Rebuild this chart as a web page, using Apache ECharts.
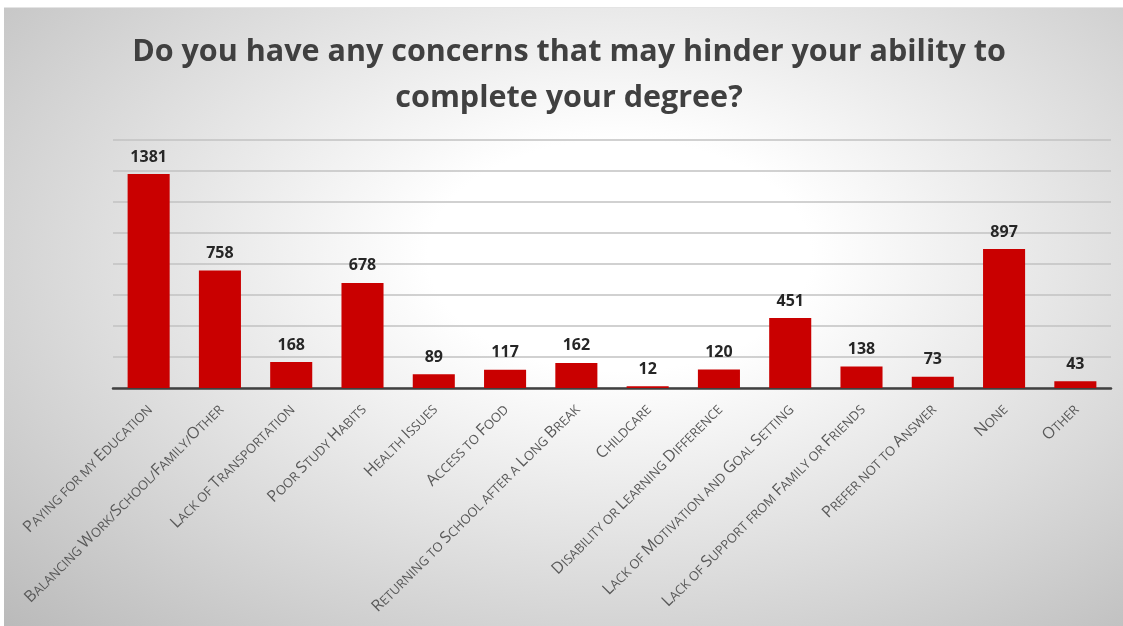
<!DOCTYPE html>
<html>
<head>
<meta charset="utf-8">
<script src="https://cdn.jsdelivr.net/npm/echarts@6/dist/echarts.min.js"></script>
<style>
html,body{margin:0;padding:0;background:#ffffff;}
#bg{position:absolute;left:4px;top:7px;width:1119px;height:619px;border-top:1px solid #e4e4e4;
background:radial-gradient(ellipse farthest-corner at 55% 40%, #ffffff 0%, #ffffff 22%, #bababa 100%);}
#chart{position:absolute;left:0;top:0;width:1123px;height:626px;}
</style>
</head>
<body>
<div id="bg"></div>
<div id="chart"></div>
<script>
const titleText = "Do you have any concerns that may hinder your ability to\ncomplete your degree?";
const categories = [
  "Paying for my Education",
  "Balancing Work/School/Family/Other",
  "Lack of Transportation",
  "Poor Study Habits",
  "Health Issues",
  "Access to Food",
  "Returning to School after a Long Break",
  "Childcare",
  "Disability or Learning Difference",
  "Lack of Motivation and Goal Setting",
  "Lack of Support from Family or Friends",
  "Prefer not to Answer",
  "None",
  "Other"
];
const counts = [1381, 758, 168, 678, 89, 117, 162, 12, 120, 451, 138, 73, 897, 43];
const yTicks = [0, 200, 400, 600, 800, 1000, 1200, 1400, 1600];

function smallCaps(s) {
  let out = "", cur = "", curStyle = null;
  for (const ch of s) {
    const st = (ch >= 'A' && ch <= 'Z') ? 'big' : 'sm';
    if (st !== curStyle && cur) { out += "{" + curStyle + "|" + cur + "}"; cur = ""; }
    curStyle = st;
    cur += ch.toUpperCase();
  }
  if (cur) out += "{" + curStyle + "|" + cur + "}";
  return out;
}

const chart = echarts.init(document.getElementById('chart'), null, {renderer: 'canvas'});
const labelFont = "'Open Sans', sans-serif";
chart.setOption({
  backgroundColor: 'transparent',
  animation: false,
  title: {
    text: titleText,
    left: 564,
    top: 24,
    textAlign: 'center',
    textStyle: {
      fontFamily: labelFont,
      fontWeight: 'bold',
      fontSize: 30.5,
      lineHeight: 46,
      color: '#404040'
    }
  },
  grid: { left: 113, right: 12, top: 140, bottom: 238, containLabel: false },
  xAxis: {
    type: 'category',
    data: categories,
    axisTick: { show: false },
    axisLine: { lineStyle: { color: '#404040', width: 2.5 } },
    axisLabel: {
      interval: 0,
      rotate: 45,
      margin: 18,
      color: '#595959',
      formatter: v => smallCaps(v),
      rich: {
        big: { fontFamily: labelFont, fontSize: 16, color: '#595959', verticalAlign: 'bottom', lineHeight: 18 },
        sm: { fontFamily: labelFont, fontSize: 12.8, color: '#595959', verticalAlign: 'bottom', lineHeight: 16 }
      }
    }
  },
  yAxis: {
    type: 'value',
    min: yTicks[0],
    max: yTicks[yTicks.length - 1],
    interval: yTicks[1] - yTicks[0],
    axisLabel: { show: false },
    axisLine: { show: false },
    axisTick: { show: false },
    splitLine: { lineStyle: { color: '#c2c2c2', width: 1.5 } }
  },
  series: [{
    type: 'bar',
    data: counts,
    barCategoryGap: '41%',
    itemStyle: { color: '#c90000' },
    label: {
      show: true,
      position: 'top',
      distance: 9,
      fontFamily: labelFont,
      fontWeight: 'bold',
      fontSize: 16,
      color: '#262626'
    }
  }]
});
</script>
</body>
</html>
